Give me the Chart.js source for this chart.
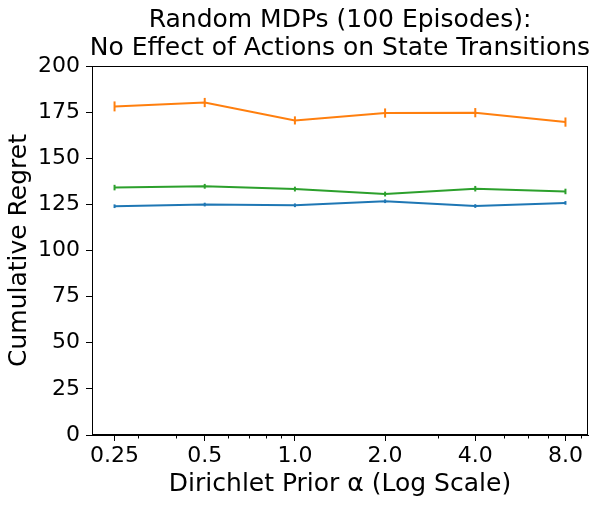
<!DOCTYPE html>
<html>
<head>
<meta charset="utf-8">
<script src="https://cdn.jsdelivr.net/npm/chart.js@4"></script>
<style>
html,body{margin:0;padding:0;background:#fff;}
#wrap{width:600px;height:507px;position:relative;}
</style>
</head>
<body>
<div id="wrap"><canvas id="c"></canvas></div>
<script>
// ---- data ----
const alphas = [0.25, 0.5, 1.0, 2.0, 4.0, 8.0];
const tickLabels = ['0.25', '0.5', '1.0', '2.0', '4.0', '8.0'];
const minorTickValues = [0.3, 0.4, 0.6, 0.7, 0.8, 0.9, 3, 5, 6, 7, 9];
const blueValues = [124.0, 124.9, 124.5, 126.7, 124.1, 125.8];
const blueErrors = [1.0, 1.0, 1.0, 1.0, 1.0, 1.0];
const orangeValues = [178.1, 180.2, 170.5, 174.5, 174.7, 169.6];
const orangeErrors = [2.7, 2.5, 2.2, 2.5, 2.5, 2.5];
const greenValues = [134.1, 134.8, 133.3, 130.6, 133.5, 132.0];
const greenErrors = [1.5, 1.3, 1.3, 1.3, 1.5, 1.5];
const titleLines = ['Random MDPs (100 Episodes):', 'No Effect of Actions on State Transitions'];
const xTitle = 'Dirichlet Prior α (Log Scale)';
const yTitle = 'Cumulative Regret';

const FONT = 'DejaVu Sans';

function mk(values, errors, color) {
  return {
    data: alphas.map((a, i) => ({x: a, y: values[i]})),
    errors: errors,
    borderColor: color,
    backgroundColor: color,
    borderWidth: 2,
    pointRadius: 0,
    pointHoverRadius: 0,
    tension: 0,
    fill: false
  };
}

const errorBarPlugin = {
  id: 'errorBars',
  afterDatasetsDraw(chart) {
    const ctx = chart.ctx;
    const xs = chart.scales.x, ys = chart.scales.y;
    chart.data.datasets.forEach(ds => {
      ctx.save();
      ctx.strokeStyle = ds.borderColor;
      ctx.lineWidth = 2;
      ds.data.forEach((p, i) => {
        const e = ds.errors[i];
        const px = xs.getPixelForValue(p.x);
        ctx.beginPath();
        ctx.moveTo(px, ys.getPixelForValue(p.y - e));
        ctx.lineTo(px, ys.getPixelForValue(p.y + e));
        ctx.stroke();
      });
      ctx.restore();
    });
  }
};

const framePlugin = {
  id: 'frame',
  beforeDraw(chart) {
    if (chart.titleBlock) {
      const a = chart.chartArea;
      const c = (a.left + a.right) / 2;
      chart.titleBlock.left = c - 300;
      chart.titleBlock.right = c + 300;
    }
  },
  afterDraw(chart) {
    const ctx = chart.ctx;
    const a = chart.chartArea;
    const xs = chart.scales.x;
    ctx.save();
    ctx.strokeStyle = '#000';
    ctx.lineWidth = 1;
    ctx.strokeRect(Math.round(a.left) + 0.5, Math.round(a.top) + 0.5,
                   Math.round(a.right - a.left) - 1, Math.round(a.bottom - a.top) - 1);
    ctx.beginPath();
    minorTickValues.forEach(v => {
      const px = Math.round(xs.getPixelForValue(v)) + 0.5;
      if (px > a.left && px < a.right) {
        ctx.moveTo(px, a.bottom);
        ctx.lineTo(px, a.bottom + 3.5);
      }
    });
    ctx.stroke();
    ctx.restore();
  }
};

new Chart(document.getElementById('c'), {
  type: 'line',
  data: {
    datasets: [
      mk(blueValues, blueErrors, '#1f77b4'),
      mk(orangeValues, orangeErrors, '#ff7f0e'),
      mk(greenValues, greenErrors, '#2ca02c')
    ]
  },
  options: {
    responsive: true,
    maintainAspectRatio: false,
    animation: false,
    devicePixelRatio: 1,
    layout: {padding: {left: 0, right: 12, top: 0, bottom: 0}},
    plugins: {
      legend: {display: false},
      tooltip: {enabled: false},
      title: {
        display: true,
        text: titleLines,
        color: '#000',
        font: {family: FONT, size: 25, weight: 'normal', lineHeight: 1.1},
        padding: {top: 7, bottom: 4}
      }
    },
    scales: {
      x: {
        type: 'logarithmic',
        min: 0.25 * Math.pow(2, -0.25),
        max: 8 * Math.pow(2, 0.25),
        afterBuildTicks(scale) {
          scale.ticks = alphas.map(v => ({value: v}));
        },
        afterFit(scale) { scale.height = 72; },
        ticks: {
          autoSkip: false,
          maxRotation: 0,
          color: '#000',
          padding: 2,
          font: {family: FONT, size: 22},
          callback(value) {
            const i = alphas.indexOf(value);
            return i >= 0 ? tickLabels[i] : '';
          }
        },
        grid: {drawOnChartArea: false, drawTicks: true, tickLength: 6, tickColor: '#000', tickWidth: 1},
        border: {display: true, color: '#000', width: 1},
        title: {
          display: true,
          text: xTitle,
          color: '#000',
          font: {family: FONT, size: 25, lineHeight: 1.2},
          padding: {top: 0, bottom: 8}
        }
      },
      y: {
        type: 'linear',
        min: 0,
        max: 200,
        afterFit(scale) { scale.width = 92; },
        ticks: {
          stepSize: 25,
          color: '#000',
          padding: 6,
          font: {family: FONT, size: 22}
        },
        grid: {drawOnChartArea: false, drawTicks: true, tickLength: 6, tickColor: '#000', tickWidth: 1},
        border: {display: true, color: '#000', width: 1},
        title: {
          display: true,
          text: yTitle,
          color: '#000',
          font: {family: FONT, size: 25, lineHeight: 1.2},
          padding: {top: 4, bottom: 0}
        }
      }
    }
  },
  plugins: [errorBarPlugin, framePlugin]
});
</script>
</body>
</html>
